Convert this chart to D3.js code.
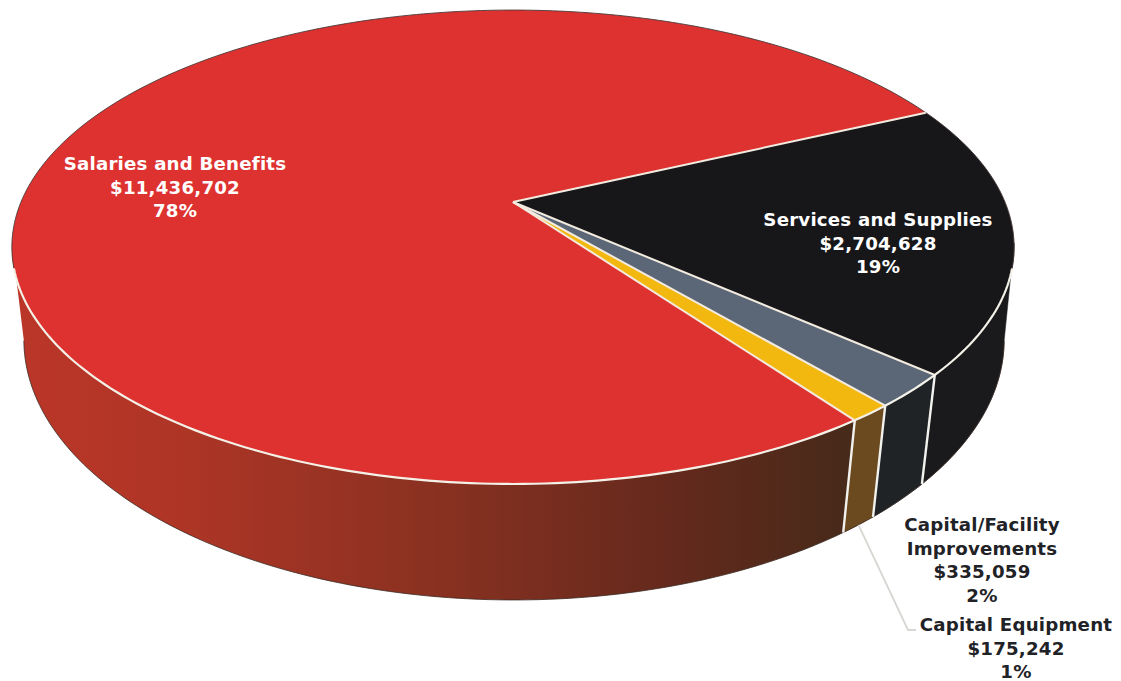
<!DOCTYPE html>
<html>
<head>
<meta charset="utf-8">
<style>
  html, body { margin: 0; padding: 0; background: #fff; }
  svg { display: block; }
  text { font-family: "DejaVu Sans", sans-serif; font-weight: 700; text-anchor: middle; letter-spacing: 0.2px; }
</style>
<script src="https://cdn.jsdelivr.net/npm/d3@7/dist/d3.min.js"></script>
</head>
<body>
<svg id="chart" width="1121" height="681"></svg>
<script>
// Budget categories, in clockwise drawing order
const categories = ["Services and Supplies", "Capital/Facility Improvements", "Capital Equipment", "Salaries and Benefits"];
const amounts = [2704628, 335059, 175242, 11436702];
const percentLabels = ["19%", "2%", "1%", "78%"];

const topColors = ["#171719", "#5b6777", "#f3b80f", "#dd3230"];
const wallColors = ["#1a1a1c", "#1f2326", "#6c4a1f", "url(#redWall)"];

// Each label's lines and where its first line sits
const labelLines = [
  ["Services and Supplies"],
  ["Capital/Facility", "Improvements"],
  ["Capital Equipment"],
  ["Salaries and Benefits"]
];
const labelAnchors = [
  { x: 878, y: 226, fill: "#ffffff" },
  { x: 982, y: 531, fill: "#1f2226" },
  { x: 1016, y: 631, fill: "#1f2226" },
  { x: 175, y: 170, fill: "#ffffff" }
];
const lineStep = 23.5;

const svg = d3.select("#chart");
const toRad = d => d * Math.PI / 180;

// Perspective view of the disc: each plane is a projected circle
const topPlane = { cx: 513, cy: 202, rx: 492, ry: 228.4, tilt: 0.19 };
const basePlane = { cx: 514, cy: 295.5, rx: 483, ry: 252.7, tilt: 0.17 };

function project(plane, t) {
  const u = Math.cos(t), v = Math.sin(t);
  const k = 1 / (1 - plane.tilt * v);
  return [plane.cx + plane.rx * u * k, plane.cy + plane.ry * v * k];
}

// Points along an angular span of one plane
function sweep(plane, a, b) {
  const n = Math.max(2, Math.ceil(Math.abs(b - a) / toRad(1)));
  return d3.range(n + 1).map(i => project(plane, a + (b - a) * i / n));
}

const pieLayout = d3.pie().sort(null).value(d => d)
  .startAngle(toRad(65)).endAngle(toRad(65) + 2 * Math.PI);
// Convert d3's 12-o'clock angles to angles from the +x axis
const slices = pieLayout(amounts).map((d, i) => ({
  i,
  a0: d.startAngle - Math.PI / 2,
  a1: d.endAngle - Math.PI / 2
}));

const line = d3.line();
const closed = pts => line(pts) + "Z";

// Side shading fades from lit red to dark brown toward the right
const defs = svg.append("defs");
const grad = defs.append("linearGradient").attr("id", "redWall")
  .attr("gradientUnits", "userSpaceOnUse")
  .attr("x1", 12).attr("x2", 850).attr("y1", 0).attr("y2", 0);
[[0, "#bb3628"], [0.2, "#ae3526"], [0.5, "#8a3121"], [0.8, "#62291c"], [1, "#472a1a"]]
  .forEach(([o, c]) => grad.append("stop").attr("offset", o).attr("stop-color", c));

// Side walls: only the part of each slice facing the viewer, up to the silhouette
const wallFrom = toRad(10), wallTo = toRad(170);
const walls = svg.append("g");
slices.forEach(s => {
  const a = Math.max(s.a0, wallFrom), b = Math.min(s.a1, wallTo);
  if (b <= a) return;
  const pts = sweep(topPlane, a, b).concat(sweep(basePlane, b, a));
  walls.append("path").attr("d", closed(pts))
    .attr("fill", wallColors[s.i])
    .attr("stroke", s.i === 3 ? "none" : wallColors[s.i])
    .attr("stroke-width", 0.5);
});
// Thin dark edge under the base
walls.append("path")
  .attr("d", line(sweep(basePlane, wallFrom, wallTo)))
  .attr("fill", "none").attr("stroke", "#3a2a22").attr("stroke-width", 0.8);

// White seams running down the wall between slices
slices.slice(0, 3).forEach(s => {
  walls.append("path")
    .attr("d", line([project(topPlane, s.a1), project(basePlane, s.a1)]))
    .attr("stroke", "#f2f2ee").attr("stroke-width", 2.4).attr("fill", "none");
});

// Top face
const face = svg.append("g");
slices.forEach(s => {
  const pts = [[topPlane.cx, topPlane.cy]].concat(sweep(topPlane, s.a0, s.a1));
  face.append("path").attr("d", closed(pts)).attr("fill", topColors[s.i]);
});

// Dark hairline around the far edge, white rim along the near edge
face.append("path")
  .attr("d", line(sweep(topPlane, toRad(164), toRad(376))))
  .attr("fill", "none").attr("stroke", "#4a3a3a").attr("stroke-width", 0.9);
face.append("path")
  .attr("d", line(sweep(topPlane, toRad(16), toRad(164))))
  .attr("fill", "none").attr("stroke", "#f4f2e8").attr("stroke-width", 2.2);

// Spokes between slices
slices.forEach(s => {
  face.append("path")
    .attr("d", line([[topPlane.cx, topPlane.cy], project(topPlane, s.a0)]))
    .attr("stroke", "#f3ebe0").attr("stroke-width", 2).attr("fill", "none");
});

// Leader from the Capital Equipment slice down to its label
const equip = slices[2];
const leaderStart = project(basePlane, (equip.a0 + equip.a1) / 2);
svg.append("path")
  .attr("d", line([leaderStart,
    [labelAnchors[2].x - 108, labelAnchors[2].y - 1],
    [labelAnchors[2].x - 100, labelAnchors[2].y - 1]]))
  .attr("fill", "none").attr("stroke", "#d6d6d2").attr("stroke-width", 1.8);

// Labels: name, amount, share
const money = d3.format("$,");
const labels = svg.append("g").attr("font-size", 18.2);
categories.forEach((c, i) => {
  const rows = labelLines[i].concat([money(amounts[i]), percentLabels[i]]);
  const anchor = labelAnchors[i];
  const t = labels.append("text").attr("fill", anchor.fill);
  rows.forEach((row, r) => {
    t.append("tspan").attr("x", anchor.x).attr("y", anchor.y + r * lineStep).text(row);
  });
});
</script>
</body>
</html>
